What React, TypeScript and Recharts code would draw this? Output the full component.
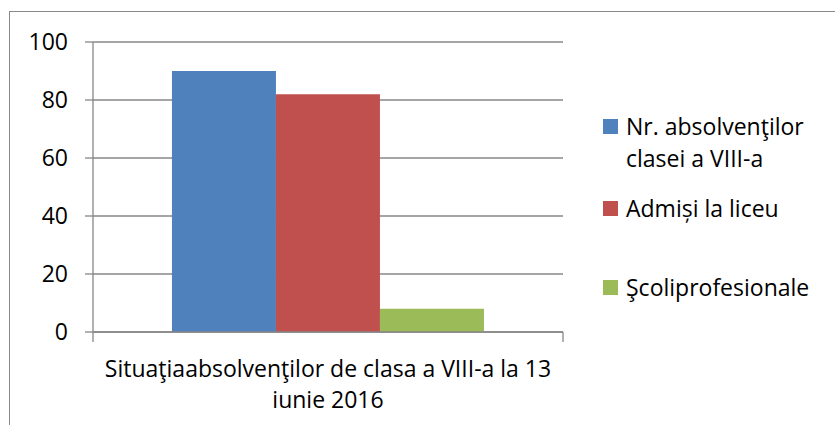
import { BarChart, Bar, XAxis, YAxis, CartesianGrid } from "recharts";

const categories = ["Situaţiaabsolvenţilor de clasa a VIII-a la 13|iunie 2016"];
const absolventi = [90];
const admisiLiceu = [82];
const scoliProfesionale = [8];
const yTicks = [0, 20, 40, 60, 80, 100];

const series = [
  { key: "absolventi", label: ["Nr. absolvenţilor", "clasei a VIII-a"], color: "#4F81BD" },
  { key: "liceu", label: ["Admiși la liceu"], color: "#C0504D" },
  { key: "profesionale", label: ["Şcoliprofesionale"], color: "#9BBB59" },
];

const data = categories.map((c, i) => ({
  name: c,
  absolventi: absolventi[i],
  liceu: admisiLiceu[i],
  profesionale: scoliProfesionale[i],
}));

const FONT = "'Open Sans', sans-serif";
const FS = 23;
const GRID = "#878787";

function CategoryTick(props: any) {
  const { x, y, payload } = props;
  const lines = String(payload.value).split("|");
  const off = payload.offset || 0;
  return (
    <g>
      {off > 0 && (
        <>
          <line x1={x - off} x2={x - off} y1={y} y2={y + 10} stroke={GRID} strokeWidth={1.3} />
          <line x1={x + off} x2={x + off} y1={y} y2={y + 10} stroke={GRID} strokeWidth={1.3} />
        </>
      )}
      {lines.map((l, i) => (
        <text key={i} x={x} y={y + 36 + i * 31} textAnchor="middle" dominantBaseline="central"
          fontFamily={FONT} fontSize={FS} fill="#000">
          {l}
        </text>
      ))}
    </g>
  );
}

function LegendBox() {
  const tops = [0, 82, 161];
  return (
    <div style={{ position: "absolute", left: 603, top: 110, fontFamily: FONT, fontSize: FS, color: "#000" }}>
      {series.map((s, i) => (
        <div key={s.key} style={{ position: "absolute", top: tops[i], left: 0 }}>
          <div style={{ position: "absolute", left: 0, top: 9, width: 15, height: 15, background: s.color }} />
          {s.label.map((l, j) => (
            <div key={j} style={{ position: "absolute", left: 23, top: j * 32, whiteSpace: "nowrap", lineHeight: "32px" }}>
              {l}
            </div>
          ))}
        </div>
      ))}
    </div>
  );
}

export default function App() {
  return (
    <div style={{ position: "absolute", left: 0, top: 0, width: 835, height: 425, overflow: "hidden", background: "#fff" }}>
      <div style={{ position: "absolute", left: 9, top: 11, width: 900, height: 500, border: "1.3px solid #888" }} />
      <BarChart width={835} height={425} data={data}
        margin={{ top: 42, right: 272, bottom: 0, left: 0 }}
        barCategoryGap="16.8%" barGap={0}>
        <CartesianGrid horizontal vertical={false} stroke={GRID} strokeWidth={1.3} />
        <XAxis dataKey="name" tick={<CategoryTick />} tickLine={false} tickSize={0} tickMargin={0}
          axisLine={{ stroke: GRID, strokeWidth: 1.3 }} interval={0} height={93} />
        <YAxis domain={[0, 100]} ticks={yTicks} width={93} tickSize={8} tickMargin={17}
          axisLine={{ stroke: GRID, strokeWidth: 1.3 }} tickLine={{ stroke: GRID, strokeWidth: 1.3 }}
          tick={{ fontFamily: FONT, fontSize: FS, fill: "#000" }} />
        {series.map((s) => (
          <Bar key={s.key} dataKey={s.key} fill={s.color} isAnimationActive={false} />
        ))}
      </BarChart>
      <LegendBox />
    </div>
  );
}
